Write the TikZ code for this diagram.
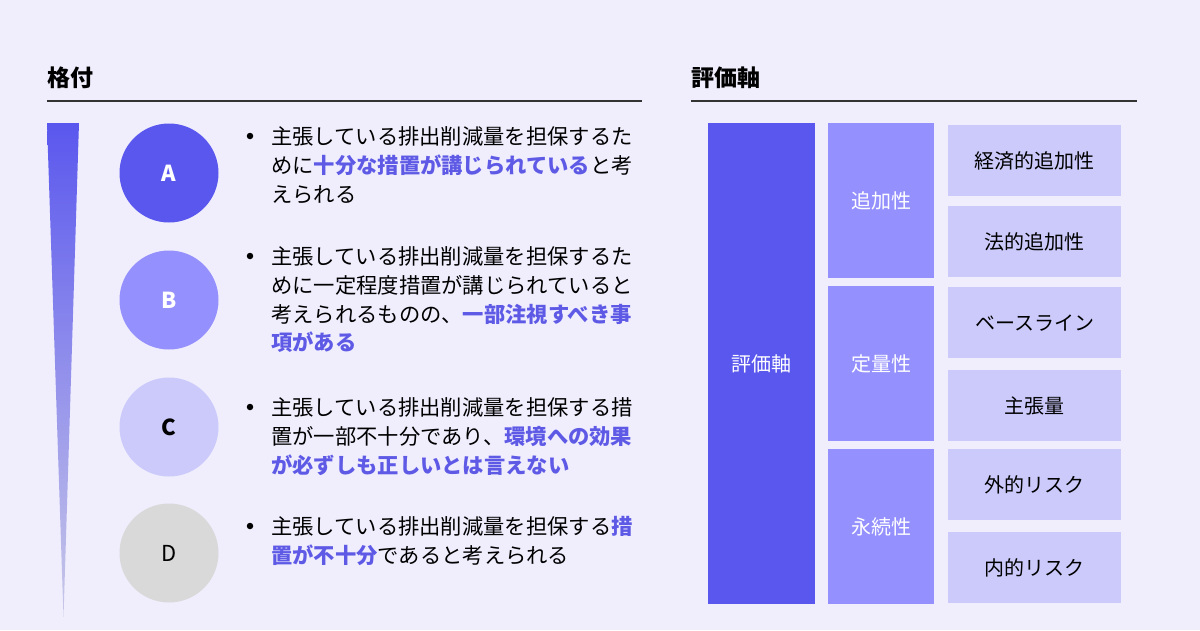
\documentclass[tikz,border=0pt]{standalone}
\usepackage{fontspec}
\setmainfont{Noto Sans CJK JP}

\definecolor{pagebg}{RGB}{240,238,253}
\definecolor{indigo}{RGB}{90,87,238}
\definecolor{violet}{RGB}{148,144,253}
\definecolor{lilac}{RGB}{203,202,251}
\definecolor{greyD}{RGB}{217,217,217}
\definecolor{rulegrey}{RGB}{51,51,51}
\definecolor{hilite}{RGB}{94,90,230}

\newcommand{\hl}[1]{{\bfseries\color{hilite}#1}}

\begin{document}
\begin{tikzpicture}[
    x=1pt,
    y=-1pt,
    head/.style={
        anchor=west,
        inner sep=0pt,
        font=\fontsize{23}{23}\selectfont\bfseries
    },
    rule/.style={
        draw=rulegrey,
        line width=1.2pt
    },
    grade/.style={
        circle,
        minimum size=99pt,
        inner sep=0pt,
        font=\fontsize{22}{22}\selectfont\bfseries
    },
    bullet/.style={
        circle,
        fill=black,
        minimum size=6.5pt,
        inner sep=0pt
    },
    item/.style={
        anchor=north west,
        inner sep=0pt,
        align=left,
        font=\fontsize{21.3}{28.7}\selectfont
    },
    cell/.style={
        anchor=north west,
        inner sep=0pt,
        font=\fontsize{20}{20}\selectfont
    }
]

    \useasboundingbox[fill=pagebg] (0,0) rectangle (1200,630);

    \node[head] (gradehead) at (47,78) {格付};
    \draw[rule] (47,101) -- (642,101);

    \node[head] (axishead) at (691,78) {評価軸};
    \draw[rule] (691,101) -- (1137,101);

    \shade[
        top color=indigo,
        bottom color=indigo!25!white!85!gray
    ] (47,123) -- (79,123) -- (63.5,617) -- cycle;

    \node[grade, fill=indigo, text=white] (gradeA) at (169,173) {A};
    \node[grade, fill=violet, text=white] (gradeB) at (169,300) {B};
    \node[grade, fill=lilac, text=black] (gradeC) at (169,427) {C};
    \node[
        grade,
        fill=greyD,
        text=black,
        font=\fontsize{22}{22}\selectfont
    ] (gradeD) at (169,553) {D};

    \node[bullet] (dotA) at (250,136) {};
    \node[item] (textA) at (271,126.5)
        {主張している排出削減量を担保するた\\
         めに\hl{十分な措置が講じられている}と考\\
         えられる};

    \node[bullet] (dotB) at (250,256) {};
    \node[item] (textB) at (271,246.5)
        {主張している排出削減量を担保するた\\
         めに一定程度措置が講じられていると\\
         考えられるものの、\hl{一部注視すべき事}\\
         \hl{項がある}};

    \node[bullet] (dotC) at (250,407) {};
    \node[item] (textC) at (271,397.5)
        {主張している排出削減量を担保する措\\
         置が一部不十分であり、\hl{環境への効果}\\
         \hl{が必ずしも正しいとは言えない}};

    \node[bullet] (dotD) at (250,526) {};
    \node[item] (textD) at (271,516.5)
        {主張している排出削減量を担保する\hl{措}\\
         \hl{置が不十分}であると考えられる};

    \node[
        cell,
        fill=indigo,
        text=white,
        minimum width=107pt,
        minimum height=481pt
    ] (axis) at (708,123) {評価軸};

    \node[cell, fill=violet, text=white, minimum width=106pt, minimum height=155pt]
        (additional) at (828,123) {追加性};
    \node[cell, fill=violet, text=white, minimum width=106pt, minimum height=155pt]
        (quantity) at (828,286) {定量性};
    \node[cell, fill=violet, text=white, minimum width=106pt, minimum height=155pt]
        (permanence) at (828,449) {永続性};

    \node[cell, fill=lilac, minimum width=173pt, minimum height=71pt]
        (economic) at (948,125) {経済的追加性};
    \node[cell, fill=lilac, minimum width=173pt, minimum height=71pt]
        (legal) at (948,206) {法的追加性};
    \node[cell, fill=lilac, minimum width=173pt, minimum height=71pt]
        (baseline) at (948,287) {ベースライン};
    \node[cell, fill=lilac, minimum width=173pt, minimum height=71pt]
        (claimed) at (948,370) {主張量};
    \node[cell, fill=lilac, minimum width=173pt, minimum height=71pt]
        (external) at (948,449) {外的リスク};
    \node[cell, fill=lilac, minimum width=173pt, minimum height=71pt]
        (internal) at (948,532) {内的リスク};

\end{tikzpicture}
\end{document}
